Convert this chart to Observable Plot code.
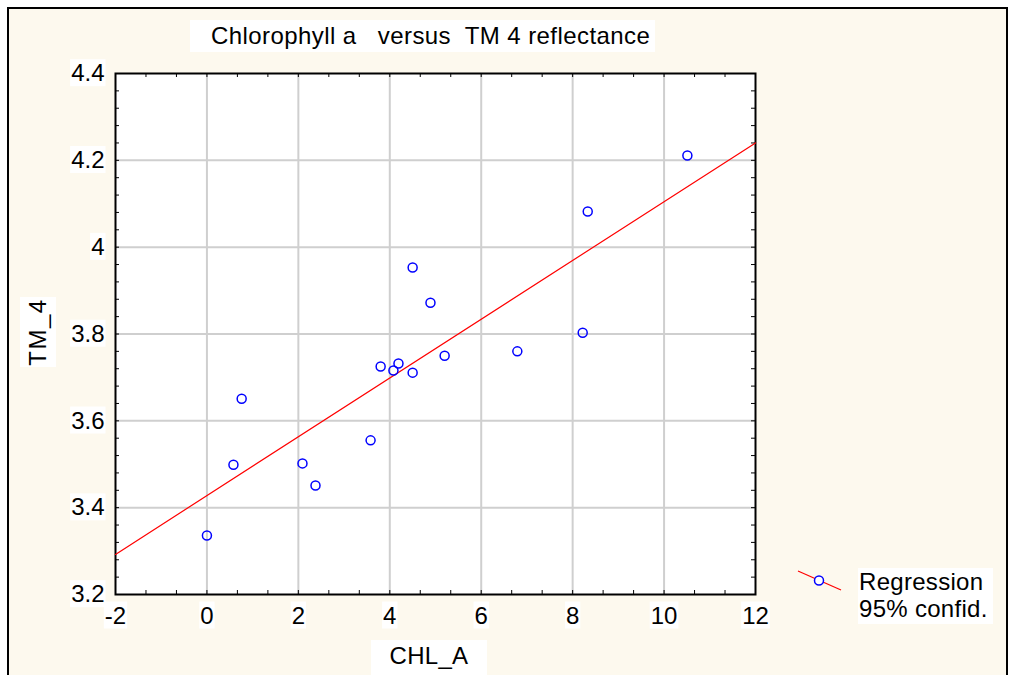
<!DOCTYPE html>
<html>
<head>
<meta charset="utf-8">
<script src="https://cdn.jsdelivr.net/npm/d3@7"></script>
<script src="https://cdn.jsdelivr.net/npm/@observablehq/plot@0.6"></script>
<style>
  html, body { margin: 0; padding: 0; background: #ffffff; overflow: hidden; }
  #wrap { position: relative; width: 1010px; height: 675px; font-family: Arial, "Liberation Sans", sans-serif; color: #000; }
  #panel { position: absolute; left: 7px; top: 7px; width: 1001px; height: 700px; box-sizing: border-box;
           background: #fdf9ee; border: 2px solid #000; border-bottom: none; }
  #chart { position: absolute; left: 0; top: 0; }
  .lbl { position: absolute; background: #fff; white-space: pre; font-size: 24px; line-height: 28px; }
  #title { left: 190px; top: 20px; width: 444px; height: 32px; padding-left: 21px; line-height: 32px; letter-spacing: 0.42px; }
  #xlabel { left: 371px; top: 640px; width: 116px; height: 35px; text-align: center; line-height: 32px; letter-spacing: 0.3px; }
  #ylabel { left: 20px; top: 297px; width: 36px; height: 70px; }
  #ylabel span { position: absolute; left: 50%; top: 50%; transform: translate(-50%, -50%) rotate(-90deg); line-height: 28px; letter-spacing: 1.5px; }
  #legend { left: 858px; top: 568px; width: 134px; height: 56px; line-height: 27px; padding-left: 1px; letter-spacing: 0.3px; }
  #legsym { position: absolute; left: 790px; top: 562px; }
</style>
</head>
<body>
<div id="wrap">
  <div id="panel"></div>
  <div id="chart"></div>
  <div class="lbl" id="title">Chlorophyll a   versus  TM 4 reflectance</div>
  <div class="lbl" id="xlabel">CHL_A</div>
  <div class="lbl" id="ylabel"><span>TM_4</span></div>
  <svg id="legsym" width="60" height="36"></svg>
  <div class="lbl" id="legend">Regression
95% confid.</div>
</div>
<script>
// ---- data ----
const chlA = [0, 0.58, 0.76, 2.09, 2.375, 3.58, 3.8, 4.08, 4.19, 4.5, 4.5, 4.89, 5.2, 6.79, 8.22, 8.33, 10.51];
const tm4  = [3.336, 3.499, 3.651, 3.502, 3.451, 3.555, 3.725, 3.716, 3.732, 3.711, 3.953, 3.872, 3.750, 3.760, 3.803, 4.082, 4.211];
const xTicks = [-2, 0, 2, 4, 6, 8, 10, 12];
const yTicks = [3.2, 3.4, 3.6, 3.8, 4.0, 4.2, 4.4];
const xDomain = [-2, 12];
const yDomain = [3.2, 4.4];

const points = chlA.map((x, i) => ({x, y: tm4[i]}));

// least squares fit, drawn across the whole x domain
const mx = d3.mean(chlA), my = d3.mean(tm4);
const slope = d3.sum(points, d => (d.x - mx) * (d.y - my)) / d3.sum(points, d => (d.x - mx) ** 2);
const intercept = my - slope * mx;
const regLine = xDomain.map(x => ({x, y: intercept + slope * x}));

// minor ticks: 3 per x major interval, 5 per y major interval
const xMinor = d3.range(0, 22).map(i => xDomain[0] + i * 2 / 3);
const yMinor = d3.range(0, 31).map(i => yDomain[0] + i * 0.04);

const W = 1010, H = 675, mT = 73, mL = 115, mR = 255, mB = 81;
const plotW = W - mL - mR, plotH = H - mT - mB;
const tick = 4;

const chart = Plot.plot({
  width: W, height: H,
  marginTop: mT, marginLeft: mL, marginRight: mR, marginBottom: mB,
  style: {background: "transparent", fontFamily: "Arial, 'Liberation Sans', sans-serif", fontSize: "24px", color: "#000", overflow: "visible"},
  x: {domain: xDomain},
  y: {domain: yDomain},
  marks: [
    Plot.frame({fill: "#fff", stroke: null}),
    Plot.gridX(xTicks.slice(1, -1), {stroke: "#cfcfcf", strokeOpacity: 1, strokeWidth: 2}),
    Plot.gridY(yTicks.slice(1, -1), {stroke: "#cfcfcf", strokeOpacity: 1, strokeWidth: 2}),
    Plot.tickX(xMinor, {x: d => d, insetTop: plotH - tick, stroke: "#000"}),
    Plot.tickX(xMinor, {x: d => d, insetBottom: plotH - tick, stroke: "#000"}),
    Plot.tickY(yMinor, {y: d => d, insetRight: plotW - tick, stroke: "#000"}),
    Plot.tickY(yMinor, {y: d => d, insetLeft: plotW - tick, stroke: "#000"}),
    Plot.frame({stroke: "#000", strokeWidth: 2}),
    Plot.axisX(xTicks, {tickSize: 0, tickPadding: 12, fontSize: 24, tickFormat: d => String(d), label: null}),
    Plot.axisY(yTicks, {tickSize: 0, tickPadding: 11, fontSize: 24, tickFormat: d => String(+d.toFixed(1)), label: null}),
    Plot.line(regLine, {x: "x", y: "y", stroke: "#ff0000", strokeWidth: 1.2}),
    Plot.dot(points, {x: "x", y: "y", r: 4.5, stroke: "#0000ff", strokeWidth: 1.5, fill: "none"})
  ]
});
document.getElementById("chart").appendChild(chart);

// white boxes behind tick labels (as in the reference)
const ns = "http://www.w3.org/2000/svg";
chart.querySelectorAll('g[aria-label$="tick label"] text').forEach(t => {
  const b = t.getBBox();
  const r = document.createElementNS(ns, "rect");
  r.setAttribute("x", b.x - 1);
  r.setAttribute("y", b.y);
  r.setAttribute("width", b.width + 2);
  r.setAttribute("height", b.height);
  r.setAttribute("fill", "#fff");
  r.setAttribute("stroke", "none");
  if (t.getAttribute("transform")) r.setAttribute("transform", t.getAttribute("transform"));
  t.parentNode.insertBefore(r, t);
});

// legend symbol
const leg = d3.select("#legsym");
leg.append("line").attr("x1", 8).attr("y1", 9).attr("x2", 51).attr("y2", 28).attr("stroke", "#ff0000").attr("stroke-width", 1.2);
leg.append("circle").attr("cx", 29).attr("cy", 18.5).attr("r", 4.5).attr("fill", "#fff").attr("stroke", "#0000ff").attr("stroke-width", 1.5);
</script>
</body>
</html>
